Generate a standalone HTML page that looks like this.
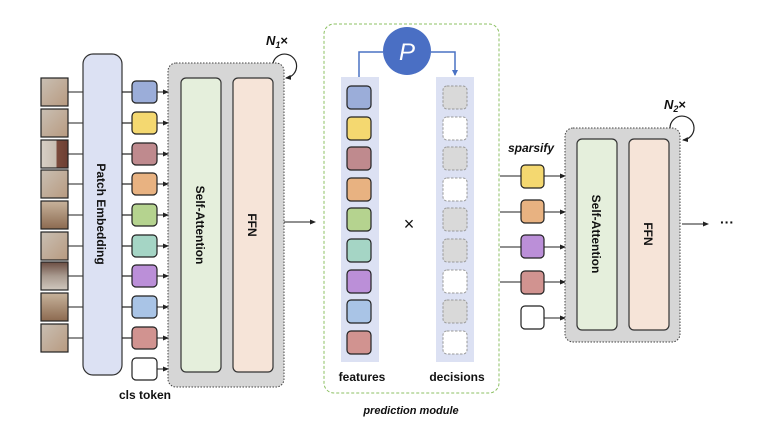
<!DOCTYPE html>
<html><head><meta charset="utf-8"><style>
html,body{margin:0;padding:0;background:#fff;width:763px;height:421px;overflow:hidden}
text{font-family:"Liberation Sans",sans-serif}
</style></head><body>
<svg width="763" height="421" viewBox="0 0 763 421" xmlns="http://www.w3.org/2000/svg">
<defs>
<marker id="ah" markerWidth="6" markerHeight="6" refX="5" refY="3" orient="auto" markerUnits="userSpaceOnUse"><path d="M0,0.5 L6,3 L0,5.5z" fill="#222"/></marker>
<marker id="ahb" markerWidth="7" markerHeight="7" refX="5" refY="3.5" orient="auto" markerUnits="userSpaceOnUse"><path d="M0,0.5 L6,3.5 L0,6.5z" fill="#4a72c4"/></marker>
<linearGradient id="g1" x1="0" y1="0" x2="1" y2="1"><stop offset="0" stop-color="#c9bfb3"/><stop offset="1" stop-color="#b89a80"/></linearGradient>
<linearGradient id="g2" x1="0" y1="0" x2="1" y2="0"><stop offset="0" stop-color="#d8d0c6"/><stop offset="0.55" stop-color="#c8beb2"/><stop offset="0.6" stop-color="#7a4a3c"/><stop offset="1" stop-color="#6d3f33"/></linearGradient>
<linearGradient id="g3" x1="0" y1="0" x2="0" y2="1"><stop offset="0" stop-color="#c7b39c"/><stop offset="1" stop-color="#8c6a50"/></linearGradient>
<linearGradient id="g4" x1="0" y1="0" x2="0" y2="1"><stop offset="0" stop-color="#6b4d42"/><stop offset="0.5" stop-color="#a99a8f"/><stop offset="1" stop-color="#d0c8be"/></linearGradient>
</defs>

<!-- images -->
<g stroke="#222" stroke-width="1.2">
<rect x="41" y="78" width="27" height="28" fill="url(#g1)"/>
<rect x="41" y="109" width="27" height="28" fill="url(#g1)"/>
<rect x="41" y="140" width="27" height="28" fill="url(#g2)"/>
<rect x="41" y="170" width="27" height="28" fill="url(#g1)"/>
<rect x="41" y="201" width="27" height="28" fill="url(#g3)"/>
<rect x="41" y="232" width="27" height="28" fill="url(#g1)"/>
<rect x="41" y="262" width="27" height="28" fill="url(#g4)"/>
<rect x="41" y="293" width="27" height="28" fill="url(#g3)"/>
<rect x="41" y="324" width="27" height="28" fill="url(#g1)"/>
</g>
<g stroke="#222" stroke-width="1">
<line x1="68" y1="92" x2="83" y2="92"/><line x1="68" y1="123" x2="83" y2="123"/><line x1="68" y1="154" x2="83" y2="154"/><line x1="68" y1="184" x2="83" y2="184"/><line x1="68" y1="215" x2="83" y2="215"/><line x1="68" y1="246" x2="83" y2="246"/><line x1="68" y1="276" x2="83" y2="276"/><line x1="68" y1="307" x2="83" y2="307"/><line x1="68" y1="338" x2="83" y2="338"/>
</g>

<!-- patch embedding -->
<rect x="83" y="54" width="39" height="321" rx="10" fill="#dce1f3" stroke="#333" stroke-width="1.2"/>
<text transform="translate(97,214) rotate(90)" text-anchor="middle" font-size="12" font-weight="bold" fill="#111">Patch Embedding</text>

<!-- gray block 1 -->
<rect x="168" y="63" width="116" height="324" rx="8" fill="#d6d6d6" stroke="#444" stroke-width="1" stroke-dasharray="1.5,1.5"/>
<rect x="181" y="78" width="40" height="294" rx="5" fill="#e5efdc" stroke="#333" stroke-width="1.2"/>
<rect x="233" y="78" width="40" height="294" rx="5" fill="#f6e4d8" stroke="#333" stroke-width="1.2"/>
<text transform="translate(196,225) rotate(90)" text-anchor="middle" font-size="12" font-weight="bold" fill="#111">Self-Attention</text>
<text transform="translate(248,225) rotate(90)" text-anchor="middle" font-size="12" font-weight="bold" fill="#111">FFN</text>

<!-- tokens left -->
<g stroke="#222" stroke-width="1" marker-end="url(#ah)">
<line x1="122" y1="92" x2="132" y2="92" marker-end="none"/>
</g>
<g id="tl" stroke="#222" stroke-width="1.2">
<g fill="none"><line x1="122" y1="92" x2="132" y2="92"/><line x1="122" y1="123" x2="132" y2="123"/><line x1="122" y1="154" x2="132" y2="154"/><line x1="122" y1="184" x2="132" y2="184"/><line x1="122" y1="215" x2="132" y2="215"/><line x1="122" y1="246" x2="132" y2="246"/><line x1="122" y1="276" x2="132" y2="276"/><line x1="122" y1="307" x2="132" y2="307"/><line x1="122" y1="338" x2="132" y2="338"/></g>
<rect x="132" y="81" width="25" height="22" rx="4" fill="#9badd9"/>
<rect x="132" y="112" width="25" height="22" rx="4" fill="#f4d870"/>
<rect x="132" y="143" width="25" height="22" rx="4" fill="#bf8a8e"/>
<rect x="132" y="173" width="25" height="22" rx="4" fill="#e8b281"/>
<rect x="132" y="204" width="25" height="22" rx="4" fill="#b5d38f"/>
<rect x="132" y="235" width="25" height="22" rx="4" fill="#a5d5c5"/>
<rect x="132" y="265" width="25" height="22" rx="4" fill="#bb8fd8"/>
<rect x="132" y="296" width="25" height="22" rx="4" fill="#a9c4e6"/>
<rect x="132" y="327" width="25" height="22" rx="4" fill="#d19390"/>
<rect x="132" y="358" width="25" height="22" rx="4" fill="#fff"/>
</g>
<g stroke="#222" stroke-width="1" marker-end="url(#ah)">
<line x1="157" y1="92" x2="168" y2="92"/><line x1="157" y1="123" x2="168" y2="123"/><line x1="157" y1="154" x2="168" y2="154"/><line x1="157" y1="184" x2="168" y2="184"/><line x1="157" y1="215" x2="168" y2="215"/><line x1="157" y1="246" x2="168" y2="246"/><line x1="157" y1="276" x2="168" y2="276"/><line x1="157" y1="307" x2="168" y2="307"/><line x1="157" y1="338" x2="168" y2="338"/><line x1="157" y1="369" x2="168" y2="369"/>
</g>
<text x="145" y="399" text-anchor="middle" font-size="12" font-weight="bold" fill="#111">cls token</text>

<!-- N1 loop -->
<text x="266" y="45" font-size="13" font-weight="bold" font-style="italic" font-family="Liberation Serif" fill="#111">N<tspan font-size="9" dy="3">1</tspan><tspan dy="-3" font-style="normal" font-family="Liberation Sans">×</tspan></text>
<path d="M273,63 A12,12 0 1,1 286,78" fill="none" stroke="#222" stroke-width="1.2" marker-end="url(#ah)"/>
<line x1="284" y1="222" x2="315" y2="222" stroke="#222" stroke-width="1" marker-end="url(#ah)"/>

<!-- prediction module -->
<rect x="324" y="24" width="175" height="369" rx="10" fill="none" stroke="#8cc063" stroke-width="1" stroke-dasharray="3,2"/>
<rect x="341" y="77" width="38" height="285" fill="#dce1f3"/>
<rect x="436" y="77" width="38" height="285" fill="#dce1f3"/>
<path d="M359,77 V52 H383" fill="none" stroke="#4a72c4" stroke-width="1.5"/>
<path d="M431,52 H455 V75" fill="none" stroke="#4a72c4" stroke-width="1.5" marker-end="url(#ahb)"/>
<circle cx="407" cy="51" r="24" fill="#4a6fc4"/>
<text x="407" y="60" text-anchor="middle" font-size="24" font-style="italic" fill="#fff">P</text>
<g stroke="#222" stroke-width="1.2">
<rect x="347" y="86" width="24" height="23" rx="4" fill="#9badd9"/>
<rect x="347" y="117" width="24" height="23" rx="4" fill="#f4d870"/>
<rect x="347" y="147" width="24" height="23" rx="4" fill="#bf8a8e"/>
<rect x="347" y="178" width="24" height="23" rx="4" fill="#e8b281"/>
<rect x="347" y="208" width="24" height="23" rx="4" fill="#b5d38f"/>
<rect x="347" y="239" width="24" height="23" rx="4" fill="#a5d5c5"/>
<rect x="347" y="270" width="24" height="23" rx="4" fill="#bb8fd8"/>
<rect x="347" y="300" width="24" height="23" rx="4" fill="#a9c4e6"/>
<rect x="347" y="331" width="24" height="23" rx="4" fill="#d19390"/>
</g>
<g stroke="#999" stroke-width="1" stroke-dasharray="2.5,1.5">
<rect x="443" y="86" width="24" height="23" rx="4" fill="#d9d9d9"/>
<rect x="443" y="117" width="24" height="23" rx="4" fill="#fff"/>
<rect x="443" y="147" width="24" height="23" rx="4" fill="#d9d9d9"/>
<rect x="443" y="178" width="24" height="23" rx="4" fill="#fff"/>
<rect x="443" y="208" width="24" height="23" rx="4" fill="#d9d9d9"/>
<rect x="443" y="239" width="24" height="23" rx="4" fill="#d9d9d9"/>
<rect x="443" y="270" width="24" height="23" rx="4" fill="#fff"/>
<rect x="443" y="300" width="24" height="23" rx="4" fill="#d9d9d9"/>
<rect x="443" y="331" width="24" height="23" rx="4" fill="#fff"/>
</g>
<text x="409" y="230" text-anchor="middle" font-size="18" fill="#111">×</text>
<text x="362" y="381" text-anchor="middle" font-size="12" font-weight="bold" fill="#111">features</text>
<text x="457" y="381" text-anchor="middle" font-size="12" font-weight="bold" fill="#111">decisions</text>
<text x="411" y="414" text-anchor="middle" font-size="11" font-weight="bold" font-style="italic" fill="#111">prediction module</text>

<!-- sparsify -->
<text x="531" y="152" text-anchor="middle" font-size="12" font-weight="bold" font-style="italic" fill="#111">sparsify</text>
<g stroke="#222" stroke-width="1">
<line x1="500" y1="176" x2="521" y2="176"/><line x1="500" y1="212" x2="521" y2="212"/><line x1="500" y1="247" x2="521" y2="247"/><line x1="500" y1="282" x2="521" y2="282"/>
</g>
<g stroke="#222" stroke-width="1" marker-end="url(#ah)">
<line x1="544" y1="176" x2="565" y2="176"/><line x1="544" y1="212" x2="565" y2="212"/><line x1="544" y1="247" x2="565" y2="247"/><line x1="544" y1="282" x2="565" y2="282"/><line x1="544" y1="318" x2="565" y2="318"/>
</g>
<g stroke="#222" stroke-width="1.2">
<rect x="521" y="165" width="23" height="23" rx="4" fill="#f4d870"/>
<rect x="521" y="200" width="23" height="23" rx="4" fill="#e8b281"/>
<rect x="521" y="235" width="23" height="23" rx="4" fill="#bb8fd8"/>
<rect x="521" y="271" width="23" height="23" rx="4" fill="#d19390"/>
<rect x="521" y="306" width="23" height="23" rx="4" fill="#fff"/>
</g>

<!-- gray block 2 -->
<rect x="565" y="128" width="115" height="214" rx="8" fill="#d6d6d6" stroke="#444" stroke-width="1" stroke-dasharray="1.5,1.5"/>
<rect x="577" y="139" width="40" height="191" rx="5" fill="#e5efdc" stroke="#333" stroke-width="1.2"/>
<rect x="629" y="139" width="40" height="191" rx="5" fill="#f6e4d8" stroke="#333" stroke-width="1.2"/>
<text transform="translate(592,234) rotate(90)" text-anchor="middle" font-size="12" font-weight="bold" fill="#111">Self-Attention</text>
<text transform="translate(644,234) rotate(90)" text-anchor="middle" font-size="12" font-weight="bold" fill="#111">FFN</text>
<text x="664" y="109" font-size="13" font-weight="bold" font-style="italic" font-family="Liberation Serif" fill="#111">N<tspan font-size="9" dy="3">2</tspan><tspan dy="-3" font-style="normal" font-family="Liberation Sans">×</tspan></text>
<path d="M670,128 A12,12 0 1,1 683,140" fill="none" stroke="#222" stroke-width="1.2" marker-end="url(#ah)"/>
<line x1="682" y1="224" x2="708" y2="224" stroke="#222" stroke-width="1" marker-end="url(#ah)"/>
<text x="727" y="227" text-anchor="middle" font-size="14" font-weight="bold" fill="#111">···</text>
</svg>
</body></html>
